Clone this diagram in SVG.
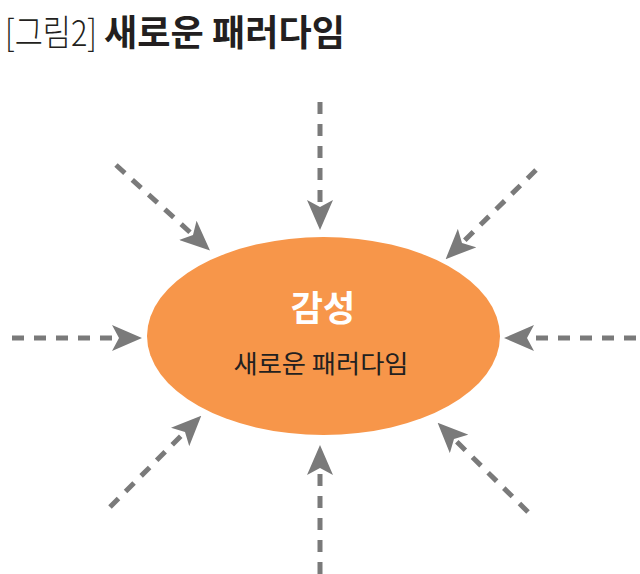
<svg xmlns="http://www.w3.org/2000/svg" width="640" height="574" viewBox="0 0 640 574">
<style>
.t{font-family:"Noto Sans CJK KR","Noto Sans",sans-serif;}
.arr{stroke:#7a7a7a;stroke-width:5;stroke-dasharray:12 10;fill:none;marker-end:url(#ah);}
</style>
<defs>
<marker id="ah" viewBox="0 0 30 26" refX="7" refY="13" markerWidth="30" markerHeight="26" markerUnits="userSpaceOnUse" orient="auto">
<path d="M0,0 L30,13 L0,26 L7,13 Z" fill="#7a7a7a"/>
</marker>
</defs>
<rect width="640" height="574" fill="#ffffff"/>
<g id="title">
<text class="t" x="5" y="46" font-size="36" font-weight="300" fill="#231f20" textLength="92" lengthAdjust="spacingAndGlyphs">[그림2]</text>
<text class="t" x="104" y="46" font-size="36" font-weight="700" fill="#231f20" textLength="241" lengthAdjust="spacingAndGlyphs">새로운 패러다임</text>
</g>
<g id="connectors">
<line class="arr" x1="320" y1="102" x2="320" y2="207"/>
<line class="arr" x1="320" y1="574" x2="320" y2="468"/>
<line class="arr" x1="12" y1="338" x2="119" y2="338"/>
<line class="arr" x1="636" y1="338" x2="527" y2="338"/>
<line class="arr" x1="116" y1="165" x2="193" y2="235"/>
<line class="arr" x1="110" y1="507" x2="185" y2="432"/>
<line class="arr" x1="536" y1="170" x2="462" y2="243"/>
<line class="arr" x1="528" y1="512" x2="454" y2="439"/>
</g>
<g id="node-center">
<ellipse cx="323.5" cy="336" rx="176.5" ry="99" fill="#f7964a"/>
<text class="t" x="323" y="321" font-size="35" font-weight="700" fill="#ffffff" text-anchor="middle">감성</text>
<text class="t" x="321" y="373" font-size="25" font-weight="400" fill="#231f20" text-anchor="middle" textLength="175" lengthAdjust="spacingAndGlyphs">새로운 패러다임</text>
</g>
</svg>
